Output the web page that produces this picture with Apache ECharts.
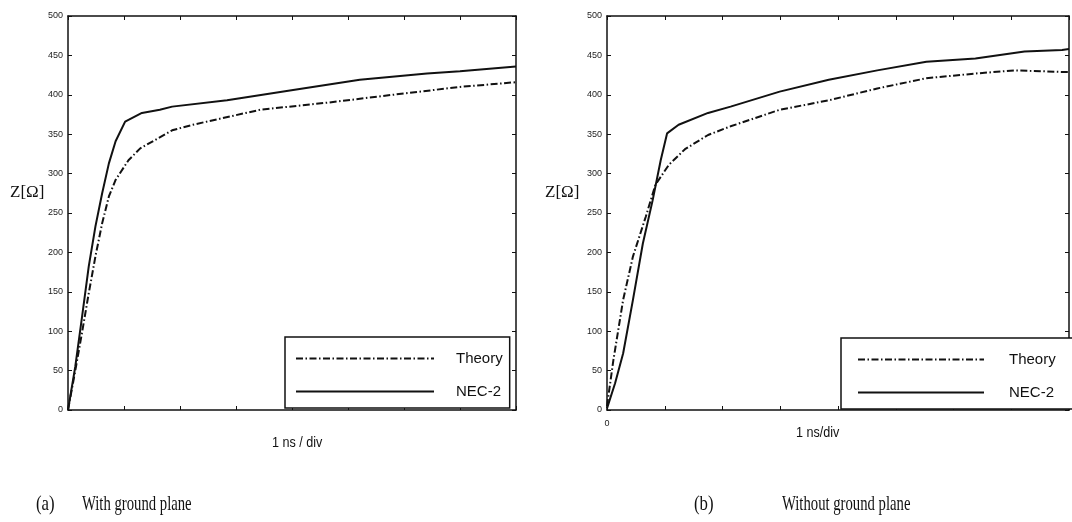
<!DOCTYPE html>
<html>
<head>
<meta charset="utf-8">
<script src="https://cdn.jsdelivr.net/npm/echarts@6/dist/echarts.min.js"></script>
<style>
html,body{margin:0;padding:0;background:#fff;}
#c{width:1072px;height:522px;}
</style>
</head>
<body>
<div id="c"></div>
<script>
// ---- data (x in ns divisions, y in ohms) ----
const yTicks = [0, 50, 100, 150, 200, 250, 300, 350, 400, 450, 500];
const seriesNames = ['Theory', 'NEC-2'];
const captionA = ['(a)', 'With ground plane'];
const captionB = ['(b)', 'Without ground plane'];

const leftTheory = [[0,0],[0.13,50],[0.25,98],[0.37,148],[0.49,195],[0.61,237],[0.73,271],[0.85,292],[1.08,317],[1.29,332],[1.86,355],[2.23,362],[3.43,381],[4.63,390],[5.8,400],[7.0,410],[8,416]];
const leftNec = [[0,0],[0.13,55],[0.25,118],[0.37,182],[0.49,233],[0.61,275],[0.73,313],[0.85,341],[1.02,366],[1.32,377],[1.64,381],[1.86,385],[2.84,393],[4.02,406],[5.21,419],[6.41,427],[7.0,430],[8,436]];
const rightTheory = [[0,5],[0.11,63],[0.28,140],[0.45,195],[0.67,245],[0.84,286],[1.07,311],[1.35,331],[1.75,349],[2.14,360],[2.99,381],[3.84,393],[4.68,408],[5.53,421],[6.38,427],[7.06,431],[7.88,429],[8,429]];
const rightNec = [[0,2],[0.14,34],[0.28,72],[0.45,140],[0.62,211],[0.79,266],[0.93,317],[1.04,351],[1.24,362],[1.75,377],[2.14,385],[2.99,404],[3.84,419],[4.68,431],[5.53,442],[6.38,446],[7.23,455],[7.88,457],[8,458]];

const chart = echarts.init(document.getElementById('c'), null, {renderer: 'canvas'});
const black = '#111';
const dashDot = [7, 2.5, 1.5, 2.5];

function xAx(grid, pos, labels) {
  return {
    type: 'value', gridIndex: grid, position: pos, min: 0, max: 8, interval: 1,
    axisLine: {show: true, onZero: false, lineStyle: {color: black, width: 1.5}},
    axisTick: {show: true, inside: true, length: 4, lineStyle: {color: black}},
    axisLabel: labels ? {show: true, margin: 9, fontSize: 9, color: '#222', fontFamily: 'Liberation Sans',
      formatter: v => (v === 0 ? '0' : '')} : {show: false},
    splitLine: {show: false}
  };
}
function yAx(grid, pos, labels) {
  return {
    type: 'value', gridIndex: grid, position: pos, min: 0, max: 500, interval: 50,
    axisLine: {show: true, onZero: false, lineStyle: {color: black, width: 1.5}},
    axisTick: {show: true, inside: true, length: 4, lineStyle: {color: black}},
    axisLabel: labels ? {show: true, margin: 5, fontSize: 9, color: '#222', fontFamily: 'Liberation Sans'} : {show: false},
    splitLine: {show: false}
  };
}
function line(name, data, xi, yi, dashed) {
  return {
    name: name, type: 'line', xAxisIndex: xi, yAxisIndex: yi, data: data,
    symbol: 'none', smooth: false, animation: false,
    lineStyle: {color: black, width: 2, type: dashed ? dashDot : 'solid'},
    itemStyle: {color: black}
  };
}
function legend(left, top, iconW, textPad, pad) {
  return {
    show: true, orient: 'vertical', left: left, top: top,
    data: seriesNames, itemWidth: iconW, itemHeight: 14, itemGap: 18,
    padding: pad, borderColor: black, borderWidth: 1.5, backgroundColor: '#fff',
    selectedMode: false,
    itemStyle: {color: 'rgba(0,0,0,0)', borderWidth: 0, opacity: 0},
    textStyle: {fontSize: 15, color: black, fontFamily: 'Liberation Sans', padding: [0, 0, 0, textPad]}
  };
}
function txt(x, y, s, size, family, sx) {
  return {type: 'text', left: x, top: y, scaleX: sx || 1,
    style: {text: s, fontSize: size, fontFamily: family, fill: black}};
}

chart.setOption({
  animation: false,
  backgroundColor: '#fff',
  grid: [
    {left: 68, top: 16, right: 556, bottom: 112, containLabel: false},
    {left: 607, top: 16, right: -7, bottom: 112, containLabel: false}
  ],
  xAxis: [xAx(0, 'bottom', false), xAx(0, 'top', false), xAx(1, 'bottom', true), xAx(1, 'top', false)],
  yAxis: [yAx(0, 'left', true), yAx(0, 'right', false), yAx(1, 'left', true), yAx(1, 'right', false)],
  legend: [legend(285, 337, 138, 17, [14, 7, 9, 10]), legend(841, 338, 126, 20, [14, 18, 9, 16])],
  series: [
    line(seriesNames[0], leftTheory, 0, 0, true),
    line(seriesNames[1], leftNec, 0, 0, false),
    line(seriesNames[0], rightTheory, 2, 2, true),
    line(seriesNames[1], rightNec, 2, 2, false)
  ],
  graphic: [
    txt(10, 184, 'Z[Ω]', 17, 'Liberation Serif'),
    txt(545, 184, 'Z[Ω]', 17, 'Liberation Serif'),
    txt(272, 436, '1 ns / div', 14, 'Liberation Sans', 0.9),
    txt(796, 426, '1 ns/div', 14, 'Liberation Sans', 0.9),
    txt(36, 494, captionA[0], 21, 'Liberation Serif', 0.8),
    txt(82, 494, captionA[1], 21, 'Liberation Serif', 0.7),
    txt(694, 494, captionB[0], 21, 'Liberation Serif', 0.8),
    txt(782, 494, captionB[1], 21, 'Liberation Serif', 0.7)
  ]
});
</script>
</body>
</html>
